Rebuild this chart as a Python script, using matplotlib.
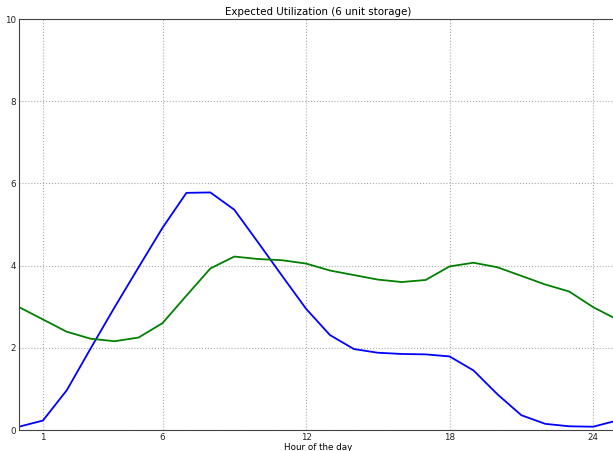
import numpy as np
import matplotlib
matplotlib.use('Agg')
import matplotlib.pyplot as plt

hours = list(range(0, 26))

# expected utilization per hour, hour 0 == hour 24 and hour 25 == hour 1
blue_util = [0.08, 0.23, 0.97, 1.99, 2.99, 3.96, 4.92, 5.77, 5.78, 5.36,
             4.56, 3.75, 2.95, 2.31, 1.97, 1.88, 1.85, 1.84, 1.79, 1.45,
             0.87, 0.36, 0.15, 0.09, 0.08, 0.23]
green_util = [2.99, 2.69, 2.39, 2.22, 2.16, 2.25, 2.60, 3.27, 3.93, 4.22,
              4.16, 4.13, 4.05, 3.88, 3.77, 3.66, 3.60, 3.65, 3.98, 4.07,
              3.96, 3.75, 3.54, 3.37, 2.99, 2.69]

xticks = [1, 6, 12, 18, 24]
yticks = [0, 2, 4, 6, 8, 10]

fig = plt.figure(figsize=(6.13, 4.51), dpi=100)
ax = fig.add_axes([19 / 613, 1 - 430 / 451, 598 / 613, 411 / 451])

ax.plot(hours, blue_util, color='#0000ff', lw=1.3)
ax.plot(hours, green_util, color='#008000', lw=1.3)

ax.set_xlim(0, 25)
ax.set_ylim(0, 10)
ax.set_xticks(xticks)
ax.set_yticks(yticks)
ax.tick_params(direction='in', length=0, labelsize=6.3, pad=2, colors='#222222')
ax.grid(True, linestyle=':', color='#aaaaaa', lw=0.8)
for s in ax.spines.values():
    s.set_color('#444444')

ax.set_xlabel('Hour of the day', fontsize=6.3, labelpad=1)
ax.set_title('Expected Utilization (6 unit storage)', fontsize=7.4, pad=3)

fig.savefig('out.png', dpi=100)
